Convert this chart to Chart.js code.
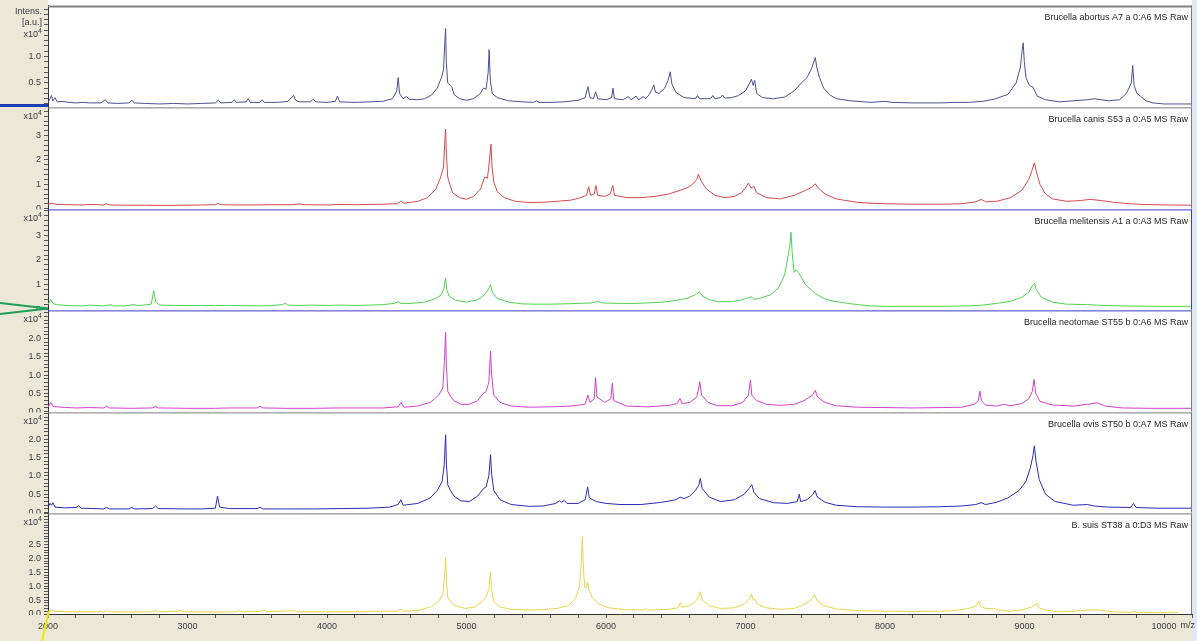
<!DOCTYPE html>
<html>
<head>
<meta charset="utf-8">
<script src="https://cdn.jsdelivr.net/npm/chart.js@4.4.1/dist/chart.umd.min.js"></script>
<style>
  html, body { margin: 0; padding: 0; }
  body { width: 1197px; height: 641px; overflow: hidden; position: relative; background: #ffffff; font-family: 'Liberation Sans', Arial, sans-serif; }
  #leftStrip { position: absolute; left: 0; top: 0; width: 48px; height: 641px; background: #ebe8d8; }
  #bottomStrip { position: absolute; left: 0; top: 614px; width: 1197px; height: 27px; background: #ebe8d8; }
  #rightStrip { position: absolute; left: 1192px; top: 0; width: 5px; height: 641px; background: #dfe8f3; }
  canvas { position: absolute; left: 0; }
  #deco { position: absolute; left: 0; top: 0; pointer-events: none; }
</style>
</head>
<body>
<div id="leftStrip"></div>
<div id="bottomStrip"></div>
<div id="rightStrip"></div>
<script>
// ---------------- DATA (m/z, intensity in x10^4 a.u.) ----------------
const spectrumTitles = [
  "Brucella abortus A7 a 0:A6 MS Raw",
  "Brucella canis S53 a 0:A5 MS Raw",
  "Brucella melitensis A1 a 0:A3 MS Raw",
  "Brucella neotomae ST55 b 0:A6 MS Raw",
  "Brucella ovis ST50 b 0:A7 MS Raw",
  "B. suis ST38 a 0:D3 MS Raw"
];

const xTickLabels = [2000, 3000, 4000, 5000, 6000, 7000, 8000, 9000, 10000];
const abortusTickLabels = [0.5, 1.0];
const canisTickLabels = [0, 1, 2, 3];
const melitensisTickLabels = [0, 1, 2, 3];
const neotomaeTickLabels = [0, 0.5, 1.0, 1.5, 2.0];
const ovisTickLabels = [0, 0.5, 1.0, 1.5, 2.0];
const suisTickLabels = [0, 0.5, 1.0, 1.5, 2.0, 2.5];

const abortus = [
[2000,0.13],[2015,0.2],[2025,0.26],[2035,0.16],[2050,0.22],[2065,0.14],[2100,0.15],[2150,0.13],[2200,0.12],[2250,0.13],
[2300,0.12],[2380,0.12],[2410,0.18],[2430,0.12],[2500,0.11],[2580,0.12],[2600,0.17],[2620,0.12],[2700,0.11],[2800,0.1],
[2900,0.11],[3000,0.1],[3100,0.11],[3200,0.12],[3220,0.17],[3240,0.12],[3320,0.13],[3335,0.18],[3350,0.13],[3420,0.14],
[3435,0.2],[3450,0.13],[3520,0.13],[3535,0.18],[3550,0.13],[3650,0.13],[3720,0.15],[3760,0.26],[3775,0.17],[3800,0.14],
[3880,0.14],[3900,0.19],[3920,0.14],[4000,0.13],[4060,0.15],[4075,0.25],[4090,0.14],[4200,0.13],[4300,0.14],[4400,0.15],
[4470,0.2],[4500,0.35],[4510,0.6],[4520,0.3],[4545,0.2],[4570,0.24],[4590,0.19],[4650,0.18],[4700,0.2],[4750,0.27],
[4790,0.4],[4820,0.6],[4835,0.75],[4845,1.3],[4850,1.53],[4855,0.9],[4865,0.5],[4885,0.45],[4895,0.42],[4910,0.28],
[4950,0.2],[5000,0.17],[5050,0.2],[5100,0.3],[5120,0.4],[5140,0.38],[5155,0.7],[5162,1.13],[5170,0.55],[5185,0.3],
[5220,0.22],[5300,0.16],[5400,0.14],[5480,0.13],[5500,0.16],[5520,0.13],[5600,0.13],[5700,0.14],[5800,0.17],[5850,0.22],
[5870,0.43],[5885,0.22],[5910,0.2],[5925,0.33],[5940,0.2],[6000,0.18],[6040,0.22],[6050,0.4],[6060,0.2],[6120,0.18],
[6160,0.24],[6180,0.18],[6215,0.25],[6235,0.18],[6265,0.24],[6285,0.2],[6310,0.28],[6330,0.38],[6342,0.46],[6355,0.32],
[6380,0.3],[6420,0.4],[6445,0.55],[6460,0.71],[6472,0.48],[6500,0.32],[6560,0.22],[6640,0.2],[6655,0.26],[6670,0.2],
[6750,0.2],[6765,0.26],[6780,0.2],[6820,0.22],[6835,0.27],[6850,0.21],[6900,0.22],[6950,0.26],[7000,0.35],[7030,0.5],
[7042,0.57],[7055,0.45],[7065,0.55],[7080,0.3],[7120,0.22],
[7200,0.2],[7280,0.23],[7350,0.35],[7400,0.5],[7440,0.6],[7470,0.75],[7490,0.9],[7500,0.98],[7510,0.8],[7530,0.6],
[7560,0.4],[7600,0.28],[7650,0.2],[7750,0.16],[7900,0.13],[8000,0.15],[8050,0.13],[8200,0.12],[8400,0.12],[8500,0.13],
[8600,0.13],[8700,0.15],[8780,0.19],[8880,0.28],[8940,0.5],[8970,0.8],[8982,1.1],[8990,1.26],[8998,0.9],[9010,0.6],
[9035,0.45],[9060,0.42],[9090,0.25],[9150,0.18],[9250,0.14],[9350,0.16],[9450,0.18],[9500,0.2],[9550,0.18],[9600,0.16],
[9680,0.18],[9730,0.3],[9765,0.5],[9775,0.83],[9785,0.45],[9805,0.3],[9830,0.25],[9870,0.16],[9920,0.12],[10000,0.1],
[10100,0.1],[10200,0.1]
];

const canis = [
[2000,0.18],[2030,0.22],[2060,0.17],[2150,0.16],[2250,0.15],[2300,0.17],[2400,0.15],[2420,0.2],[2440,0.15],[2550,0.14],
[2700,0.14],[2850,0.13],[3000,0.14],[3100,0.15],[3200,0.16],[3220,0.22],[3240,0.16],[3350,0.15],[3500,0.15],[3600,0.16],
[3750,0.16],[3800,0.19],[3850,0.16],[4000,0.15],[4100,0.17],[4200,0.16],[4300,0.17],[4400,0.18],[4500,0.2],[4530,0.3],
[4550,0.22],[4650,0.3],[4720,0.45],[4780,0.8],[4815,1.3],[4835,1.7],[4845,2.8],[4850,3.27],[4856,2.2],[4865,1.3],
[4880,1.0],[4900,0.65],[4950,0.45],[5000,0.38],[5050,0.5],[5100,0.8],[5130,1.3],[5150,1.25],[5165,2.0],[5175,2.65],
[5183,1.7],[5195,1.1],[5220,0.7],[5270,0.45],[5350,0.3],[5450,0.25],[5550,0.26],[5650,0.3],[5750,0.35],[5820,0.45],
[5860,0.55],[5875,0.9],[5890,0.55],[5915,0.6],[5928,0.95],[5940,0.55],[5990,0.5],[6030,0.6],[6048,0.95],[6060,0.55],
[6150,0.45],[6250,0.45],[6350,0.5],[6450,0.6],[6530,0.75],[6580,0.85],[6620,1.0],[6650,1.2],[6662,1.42],[6680,1.15],
[6720,0.8],[6780,0.55],[6850,0.45],[6920,0.5],[6970,0.65],[7000,0.85],[7020,1.05],[7040,0.85],[7060,0.92],[7080,0.65],
[7150,0.45],[7250,0.4],[7350,0.55],[7430,0.75],[7480,0.9],[7500,1.02],[7520,0.85],[7570,0.6],[7650,0.4],[7700,0.35],
[7800,0.26],[7900,0.22],[8000,0.2],[8200,0.18],[8400,0.18],[8550,0.2],[8650,0.28],[8690,0.38],[8720,0.28],[8800,0.3],
[8900,0.45],[8980,0.75],[9030,1.2],[9055,1.6],[9070,1.88],[9085,1.5],[9110,1.0],[9150,0.6],[9200,0.4],[9300,0.3],
[9400,0.33],[9470,0.38],[9550,0.33],[9650,0.25],[9750,0.2],[9850,0.17],[10000,0.15],[10200,0.14]
];

const melitensis = [
[2000,0.2],[2020,0.4],[2035,0.25],[2060,0.2],[2150,0.16],[2250,0.15],[2300,0.18],[2400,0.15],[2450,0.2],[2470,0.15],
[2550,0.15],[2620,0.2],[2650,0.16],[2740,0.22],[2758,0.76],[2772,0.3],[2800,0.18],[2900,0.17],[3000,0.16],[3100,0.17],
[3200,0.16],[3300,0.17],[3400,0.16],[3500,0.15],[3600,0.16],[3680,0.2],[3700,0.26],[3720,0.18],[3800,0.17],[3900,0.18],
[4000,0.17],[4100,0.18],[4200,0.17],[4300,0.18],[4400,0.2],[4480,0.25],[4510,0.32],[4530,0.25],[4600,0.25],[4700,0.3],
[4780,0.45],[4820,0.6],[4840,0.9],[4850,1.27],[4858,0.8],[4875,0.55],[4920,0.38],[5000,0.3],[5080,0.4],[5130,0.6],
[5160,0.85],[5172,1.0],[5185,0.7],[5220,0.45],[5300,0.3],[5400,0.23],[5500,0.22],[5600,0.22],[5700,0.23],[5800,0.25],
[5900,0.27],[5940,0.33],[5970,0.27],[6100,0.25],[6200,0.25],[6300,0.27],[6400,0.3],[6500,0.37],[6580,0.45],[6640,0.6],
[6670,0.72],[6690,0.55],[6740,0.4],[6800,0.32],[6900,0.32],[6980,0.4],[7040,0.52],[7060,0.42],[7100,0.45],[7180,0.6],
[7240,0.9],[7280,1.4],[7300,2.0],[7318,2.6],[7326,3.12],[7334,2.3],[7348,1.5],[7362,1.6],[7380,1.5],[7400,1.3],
[7430,1.0],[7470,0.8],[7500,0.65],[7515,0.6],[7560,0.45],[7620,0.35],[7700,0.28],[7800,0.2],[7900,0.15],[8000,0.13],
[8200,0.13],[8400,0.13],[8600,0.15],[8700,0.18],[8800,0.25],[8900,0.33],[8980,0.5],[9030,0.7],[9060,1.0],[9072,1.05],
[9085,0.8],[9120,0.5],[9200,0.3],[9300,0.22],[9450,0.2],[9600,0.16],[9800,0.14],[10000,0.13],[10200,0.13]
];

const neotomae = [
[2000,0.12],[2020,0.25],[2035,0.14],[2100,0.12],[2200,0.1],[2300,0.11],[2400,0.1],[2420,0.15],[2440,0.1],[2600,0.09],
[2750,0.1],[2770,0.14],[2790,0.1],[3000,0.09],[3200,0.09],[3300,0.1],[3500,0.1],[3520,0.15],[3540,0.1],[3700,0.09],
[3900,0.09],[4100,0.1],[4300,0.1],[4400,0.1],[4510,0.13],[4530,0.25],[4550,0.12],[4650,0.15],[4740,0.25],[4800,0.45],
[4830,0.65],[4842,1.4],[4850,2.17],[4856,1.2],[4866,0.55],[4885,0.42],[4910,0.3],[4960,0.2],[5020,0.2],[5080,0.3],
[5120,0.5],[5140,0.55],[5160,0.8],[5172,1.65],[5180,1.0],[5195,0.45],[5240,0.25],[5320,0.15],[5450,0.12],[5600,0.13],
[5750,0.15],[5850,0.2],[5870,0.45],[5885,0.25],[5915,0.35],[5925,0.93],[5935,0.4],[5990,0.25],[6035,0.35],[6045,0.78],
[6055,0.3],[6150,0.15],[6300,0.13],[6450,0.17],[6510,0.22],[6530,0.36],[6545,0.22],[6600,0.25],[6650,0.4],[6665,0.65],
[6672,0.82],[6685,0.45],[6730,0.25],[6800,0.16],[6900,0.16],[6980,0.25],[7020,0.45],[7035,0.86],[7045,0.45],[7080,0.3],
[7150,0.2],[7250,0.17],[7350,0.2],[7420,0.3],[7480,0.45],[7500,0.58],[7515,0.4],[7570,0.25],[7650,0.16],[7800,0.12],
[8000,0.11],[8200,0.1],[8400,0.11],[8550,0.12],[8640,0.2],[8668,0.3],[8680,0.56],[8690,0.3],[8720,0.18],[8800,0.15],
[8850,0.2],[8900,0.16],[8980,0.22],[9030,0.35],[9055,0.55],[9068,0.88],[9080,0.5],[9110,0.28],[9200,0.18],[9350,0.15],
[9450,0.2],[9520,0.24],[9580,0.15],[9700,0.1],[9900,0.09],[10200,0.09]
];

const ovis = [
[2000,0.15],[2015,0.25],[2025,0.2],[2035,0.27],[2050,0.15],[2120,0.13],[2200,0.14],[2220,0.18],[2240,0.12],[2400,0.1],
[2420,0.14],[2440,0.1],[2580,0.1],[2600,0.14],[2620,0.1],[2750,0.11],[2770,0.18],[2790,0.11],[3000,0.1],[3100,0.1],
[3200,0.12],[3215,0.45],[3230,0.15],[3300,0.11],[3500,0.11],[3520,0.15],[3540,0.1],[3700,0.1],[3900,0.1],[4100,0.11],
[4300,0.12],[4450,0.15],[4510,0.22],[4530,0.35],[4545,0.2],[4650,0.25],[4740,0.4],[4790,0.6],[4825,0.85],[4840,1.3],
[4850,2.12],[4856,1.3],[4866,0.75],[4885,0.6],[4910,0.45],[4960,0.32],[5020,0.3],[5080,0.45],[5120,0.65],[5140,0.7],
[5160,1.0],[5172,1.58],[5180,1.05],[5195,0.6],[5240,0.35],[5320,0.22],[5450,0.17],[5550,0.18],[5640,0.25],[5665,0.32],
[5680,0.28],[5700,0.33],[5720,0.25],[5800,0.25],[5850,0.35],[5868,0.7],[5880,0.4],[5930,0.3],[6000,0.25],[6100,0.22],
[6250,0.22],[6400,0.28],[6500,0.35],[6530,0.42],[6560,0.38],[6600,0.45],[6640,0.6],[6665,0.75],[6675,0.93],[6690,0.65],
[6740,0.42],[6820,0.3],[6920,0.35],[6990,0.5],[7030,0.68],[7045,0.76],[7060,0.55],[7100,0.38],[7200,0.27],[7300,0.25],
[7370,0.3],[7385,0.5],[7395,0.3],[7440,0.35],[7480,0.48],[7498,0.6],[7515,0.42],[7570,0.28],[7650,0.2],[7800,0.16],
[8000,0.15],[8200,0.15],[8400,0.16],[8550,0.18],[8650,0.22],[8690,0.27],[8720,0.22],[8800,0.28],[8880,0.4],[8960,0.6],
[9010,0.85],[9040,1.2],[9060,1.55],[9070,1.82],[9082,1.4],[9105,0.9],[9150,0.5],[9220,0.3],[9350,0.2],[9450,0.22],
[9500,0.18],[9600,0.15],[9760,0.14],[9780,0.25],[9800,0.14],[9950,0.12],[10200,0.12]
];

const suis = [
[2000,0.08],[2030,0.15],[2050,0.09],[2200,0.08],[2400,0.08],[2420,0.12],[2440,0.08],[2600,0.07],[2750,0.08],[2770,0.14],
[2790,0.08],[2920,0.1],[2950,0.12],[2980,0.08],[3200,0.07],[3350,0.08],[3370,0.12],[3390,0.08],[3530,0.1],[3550,0.13],
[3570,0.08],[3760,0.12],[3780,0.08],[4000,0.08],[4200,0.08],[4350,0.1],[4500,0.1],[4530,0.18],[4550,0.1],[4650,0.13],
[4740,0.25],[4800,0.45],[4830,0.7],[4842,1.3],[4850,2.02],[4857,1.1],[4866,0.6],[4890,0.42],[4930,0.28],[4990,0.2],
[5060,0.25],[5110,0.45],[5140,0.6],[5160,0.9],[5172,1.52],[5180,0.85],[5195,0.45],[5240,0.25],[5320,0.17],[5450,0.14],
[5560,0.16],[5650,0.2],[5730,0.3],[5780,0.55],[5810,1.0],[5822,1.8],[5830,2.78],[5838,1.6],[5848,0.95],[5858,0.95],
[5868,1.15],[5878,0.85],[5900,0.6],[5950,0.35],[6020,0.22],[6150,0.15],[6270,0.15],[6285,0.2],[6300,0.14],[6450,0.17],
[6515,0.22],[6532,0.4],[6545,0.25],[6600,0.3],[6650,0.5],[6668,0.65],[6675,0.8],[6690,0.5],[6740,0.3],[6820,0.2],
[6920,0.22],[6990,0.35],[7030,0.55],[7042,0.72],[7055,0.5],[7065,0.55],[7085,0.35],[7150,0.22],[7250,0.17],[7350,0.2],
[7400,0.3],[7440,0.4],[7470,0.5],[7495,0.7],[7510,0.5],[7560,0.3],[7650,0.18],[7800,0.12],[8000,0.1],[8200,0.09],
[8400,0.1],[8500,0.12],[8600,0.2],[8650,0.28],[8672,0.46],[8684,0.28],[8720,0.2],[8780,0.2],[8815,0.14],[8900,0.1],
[8980,0.15],[9050,0.25],[9090,0.38],[9105,0.22],[9150,0.14],[9250,0.08],[9350,0.1],[9450,0.14],[9520,0.15],[9560,0.12],
[9650,0.07],[9770,0.06],[9785,0.1],[9800,0.06],[9950,0.05],[10100,0.05]
];

// ---------------- RENDERING ----------------
const FONT = "'Liberation Sans', Arial, sans-serif";
Chart.defaults.font.family = FONT;
Chart.defaults.font.size = 9;
Chart.defaults.color = '#3a3a3a';

const BEIGE = '#ebe8d8';
const GRAY_FRAME = '#7c7c7c';
const BLUE_FRAME = '#3b3bc4';
const PAD = 8;
const CANVAS_W = 1197;
const RIGHT_PAD = 5;

const panels = [
  { data: abortus,    title: spectrumTitles[0], color: '#4f4f8f', min: 0.05, max: 1.97, step: 0.1, labels: abortusTickLabels,    dec: 1, top: 5,   bottom: 107, frame: GRAY_FRAME, topFrame: '#808080', topW: 2, header: true },
  { data: canis,      title: spectrumTitles[1], color: '#d44a4e', min: 0,    max: 4.16, step: 0.2, labels: canisTickLabels,      dec: 0, top: 107, bottom: 209, frame: GRAY_FRAME, topFrame: GRAY_FRAME, topW: 1 },
  { data: melitensis, title: spectrumTitles[2], color: '#4fd24f', min: 0,    max: 4.04, step: 0.2, labels: melitensisTickLabels, dec: 0, top: 209, bottom: 310, frame: BLUE_FRAME, topFrame: BLUE_FRAME, topW: 1 },
  { data: neotomae,   title: spectrumTitles[3], color: '#d042c8', min: 0,    max: 2.77, step: 0.1, labels: neotomaeTickLabels,   dec: 1, top: 310, bottom: 412, frame: GRAY_FRAME, topFrame: BLUE_FRAME, topW: 1 },
  { data: ovis,       title: spectrumTitles[4], color: '#2b2bb8', min: 0,    max: 2.73, step: 0.1, labels: ovisTickLabels,       dec: 1, top: 412, bottom: 513, frame: GRAY_FRAME, topFrame: GRAY_FRAME, topW: 1 },
  { data: suis,       title: spectrumTitles[5], color: '#e9d44c', min: 0,    max: 3.62, step: 0.1, labels: suisTickLabels,       dec: 1, top: 513, bottom: 614, frame: GRAY_FRAME, topFrame: GRAY_FRAME, topW: 1 }
];

function drawExp(ctx, rightX, cy) {
  ctx.textAlign = 'right';
  ctx.textBaseline = 'middle';
  ctx.font = '7px ' + FONT;
  const w4 = ctx.measureText('4').width;
  ctx.fillText('4', rightX, cy - 3);
  ctx.font = '9px ' + FONT;
  ctx.fillText('x10', rightX - w4, cy);
}

panels.forEach((p, i) => {
  const last = i === panels.length - 1;
  const cTop = p.top - PAD;
  const h = last ? 641 - cTop : (p.bottom - p.top) + 2 * PAD;
  const canvas = document.createElement('canvas');
  canvas.width = CANVAS_W;
  canvas.height = h;
  canvas.style.top = cTop + 'px';
  canvas.style.width = CANVAS_W + 'px';
  canvas.style.height = h + 'px';
  document.body.appendChild(canvas);

  const deco = {
    id: 'panelDeco' + i,
    beforeDraw(chart) {
      const { ctx, chartArea: ca, height } = chart;
      ctx.save();
      ctx.fillStyle = BEIGE;
      if (last) {
        ctx.fillRect(0, ca.top, ca.right, height - ca.top);
      } else {
        ctx.fillRect(0, ca.top, ca.left, ca.bottom - ca.top);
      }
      ctx.fillStyle = '#ffffff';
      ctx.fillRect(ca.left, ca.top, ca.right - ca.left, ca.bottom - ca.top);
      ctx.restore();
    },
    beforeDatasetsDraw(chart) {
      if (!last) return;
      const { ctx, chartArea: ca } = chart;
      ctx.save();
      ctx.fillStyle = BEIGE;
      ctx.fillRect(0, ca.bottom + 1, ca.left - 2, 5);
      ctx.restore();
    },
    afterDraw(chart) {
      const { ctx, chartArea: ca } = chart;
      ctx.save();
      ctx.strokeStyle = p.topFrame;
      ctx.lineWidth = p.topW;
      ctx.beginPath();
      ctx.moveTo(ca.left, ca.top + p.topW / 2);
      ctx.lineTo(ca.right, ca.top + p.topW / 2);
      ctx.stroke();
      ctx.strokeStyle = p.frame;
      ctx.lineWidth = 1;
      ctx.beginPath();
      ctx.moveTo(ca.right - 0.5, ca.top);
      ctx.lineTo(ca.right - 0.5, ca.bottom);
      ctx.stroke();
      ctx.fillStyle = '#262626';
      ctx.font = '9px ' + FONT;
      ctx.textAlign = 'right';
      ctx.textBaseline = 'middle';
      ctx.fillText(p.title, ca.right - 4, ca.top + 12);
      ctx.fillStyle = '#3a3a3a';
      if (p.header) {
        ctx.font = '9px ' + FONT;
        ctx.textAlign = 'right';
        ctx.textBaseline = 'middle';
        ctx.fillText('Intens.', 42, ca.top + 6);
        ctx.fillText('[a.u.]', 42, ca.top + 17);
        drawExp(ctx, 42, ca.top + 29);
      } else {
        drawExp(ctx, 42, ca.top + 9);
      }
      if (last) {
        const xs = chart.scales.x;
        ctx.font = '9px ' + FONT;
        const w = ctx.measureText('10000').width;
        ctx.textAlign = 'left';
        ctx.textBaseline = 'top';
        ctx.fillText('m/z', xs.getPixelForValue(10000) + w / 2 + 4, ca.bottom + 7);
      }
      ctx.restore();
    }
  };

  new Chart(canvas, {
    type: 'line',
    data: {
      datasets: [{
        data: p.data.map(([x, y]) => ({ x, y })),
        borderColor: p.color,
        borderWidth: 1,
        pointRadius: 0,
        tension: 0,
        fill: false
      }]
    },
    options: {
      responsive: false,
      animation: false,
      devicePixelRatio: 1,
      events: [],
      layout: { padding: { top: PAD, bottom: last ? 0 : PAD, left: 0, right: RIGHT_PAD } },
      plugins: { legend: { display: false }, tooltip: { enabled: false } },
      scales: {
        x: {
          type: 'linear',
          min: 2000,
          max: 10200,
          display: last,
          afterFit: (s) => { s.height = last ? 27 : 0; s.paddingLeft = 0; s.paddingRight = 0; },
          grid: { display: true, drawOnChartArea: false, drawTicks: true, tickLength: 4, color: '#555' },
          border: { display: true, color: '#333', width: 1 },
          ticks: {
            stepSize: 200,
            autoSkip: false,
            maxRotation: 0,
            includeBounds: false,
            padding: 3,
            color: '#3a3a3a',
            font: { size: 9 },
            callback: (v) => xTickLabels.includes(v) ? String(v) : ''
          }
        },
        y: {
          type: 'linear',
          position: 'left',
          min: p.min,
          max: p.max,
          afterFit: (s) => { s.width = 48; },
          grid: { display: true, drawOnChartArea: false, drawTicks: true, tickLength: 4, color: '#555' },
          border: { display: true, color: '#333', width: 1 },
          ticks: {
            stepSize: p.step,
            autoSkip: false,
            includeBounds: false,
            padding: 3,
            color: '#3a3a3a',
            font: { size: 9 },
            callback: (v) => {
              const hit = p.labels.find(l => Math.abs(l - v) < 1e-6);
              return hit === undefined ? '' : hit.toFixed(p.dec);
            }
          }
        }
      }
    },
    plugins: [deco]
  });
});
</script>
<svg id="deco" width="1197" height="641">
  <line x1="0" y1="105.5" x2="48" y2="105.5" stroke="#1c3fb5" stroke-width="3"/>
  <line x1="0" y1="303" x2="48" y2="308.5" stroke="#1f9e5a" stroke-width="2"/>
  <line x1="0" y1="314" x2="48" y2="308.5" stroke="#1f9e5a" stroke-width="2"/>
  <line x1="42" y1="641" x2="49" y2="611" stroke="#f2e400" stroke-width="2"/>
</svg>
</body>
</html>
